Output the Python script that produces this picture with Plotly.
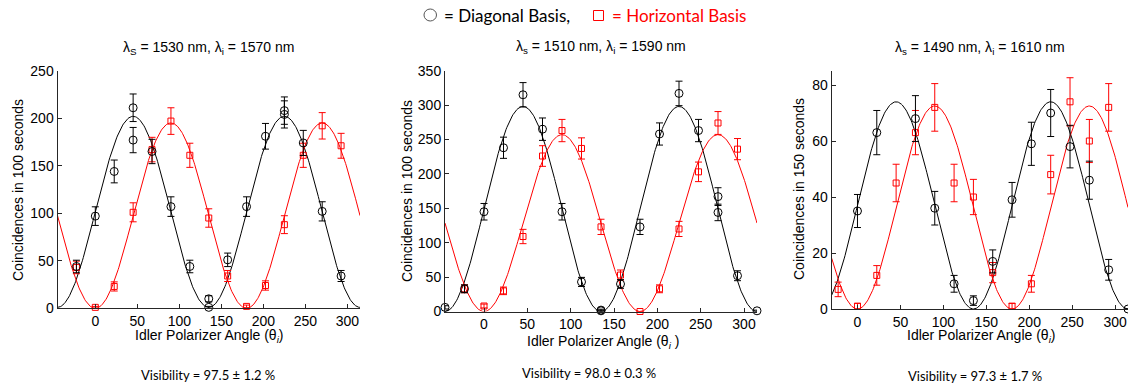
import numpy as np
import plotly.graph_objects as go

W, H = 1128, 385

# ---------------- data ----------------
# Panel 1: lambda_s = 1530, lambda_i = 1570
p1_diag_x = [-22.5, 0, 22.5, 45, 45, 67.5, 90, 112.5, 135, 135, 157.5, 180, 202.5, 225, 225, 247.5, 270, 292.5]
p1_diag_y = [44, 97, 144, 211, 177, 165, 107, 44, 10, 1, 51, 107, 181, 208, 204, 174, 102, 34]
p1_diag_e = [6.6, 9.8, 12, 14.5, 13.3, 12.8, 10.3, 6.6, 3.2, 1, 7.1, 10.3, 13.5, 14.4, 14.3, 13.2, 10.1, 5.8]
p1_hor_x = [-22.5, 0, 22.5, 45, 67.5, 90, 112.5, 135, 157.5, 180, 202.5, 225, 247.5, 270, 292.5]
p1_hor_y = [43, 1, 23, 101, 167, 197, 161, 95, 34, 2, 24, 88, 161, 192, 171]
p1_hor_e = [6.6, 1, 4.8, 10, 12.9, 14, 12.7, 9.7, 5.8, 1.4, 4.9, 9.4, 12.7, 13.9, 13.1]

# Panel 2: lambda_s = 1510, lambda_i = 1590
p2_diag_x = [-45, -22.5, 0, 22.5, 45, 67.5, 90, 112.5, 135, 135, 157.5, 180, 202.5, 225, 247.5, 270, 270, 292.5, 315]
p2_diag_y = [6, 33, 145, 238, 315, 265, 145, 43, 2, 1, 40, 123, 258, 317, 263, 167, 144, 52, 1]
p2_diag_e = [2.4, 5.7, 12, 15.4, 17.7, 16.3, 12, 6.6, 1.4, 1, 6.3, 11.1, 16.1, 17.8, 16.2, 12.9, 12, 7.2, 1]
p2_hor_x = [-22.5, 0, 22.5, 45, 67.5, 90, 112.5, 135, 157.5, 180, 202.5, 225, 247.5, 270, 292.5]
p2_hor_y = [33, 8, 30, 109, 226, 263, 237, 123, 53, 0, 33, 120, 203, 274, 236]
p2_hor_e = [5.7, 2.8, 5.5, 10.4, 15, 16.2, 15.4, 11.1, 7.3, 0, 5.7, 11, 14.2, 16.6, 15.4]

# Panel 3: lambda_s = 1490, lambda_i = 1610
p3_diag_x = [0, 22.5, 67.5, 90, 112.5, 135, 157.5, 180, 202.5, 225, 247.5, 270, 292.5, 315]
p3_diag_y = [35, 63, 68, 36, 9, 3, 17, 39, 59, 70, 58, 46, 14, 0]
p3_diag_e = [5.9, 7.9, 8.2, 6, 3, 1.7, 4.1, 6.2, 7.7, 8.4, 7.6, 6.8, 3.7, 0]
p3_hor_x = [-22.5, 0, 22.5, 45, 67.5, 90, 112.5, 135, 157.5, 180, 202.5, 225, 247.5, 270, 292.5]
p3_hor_y = [7, 1, 12, 45, 63, 72, 45, 40, 13, 1, 9, 48, 74, 60, 72]
p3_hor_e = [2.6, 1, 3.5, 6.7, 7.9, 8.5, 6.7, 6.3, 3.6, 1, 3, 6.9, 8.6, 7.7, 8.5]

# fit parameters (max, min) of cos^2 fits
fit_diag = [(202, 1), (298, 0), (74, 0)]
fit_hor = [(195, 0), (257, 0), (72.5, 0)]

titles = ["λ<sub>S</sub> = 1530 nm, λ<sub>i</sub> = 1570 nm",
          "λ<sub>s</sub> = 1510 nm, λ<sub>i</sub> = 1590 nm",
          "λ<sub>s</sub> = 1490 nm, λ<sub>i</sub> = 1610 nm"]
ytitles = ["Coincidences in 100 seconds", "Coincidences in 100 seconds", "Coincidences in 150 seconds"]
visibilities = ["Visibility = 97.5 ± 1.2 %", "Visibility = 98.0 ± 0.3 %", "Visibility = 97.3 ± 1.7 %"]
xranges = [(-45, 315), (-45, 315), (-30, 315)]
yranges = [(0, 250), (0, 350), (0, 85)]
ydticks = [50, 50, 20]
xticks = [0, 50, 100, 150, 200, 250, 300]

# ---------------- layout geometry (pixels) ----------------
px_x = [(57.5, 360), (445, 757), (831.7, 1128)]
px_y = [(70.7, 308.3), (70.7, 311.5), (71, 309)]

def fx(x):
    return x / W

def fy(y):
    return 1 - y / H

fig = go.Figure()
BLACK = "#000000"
RED = "#ff0000"

panels = [
    (p1_diag_x, p1_diag_y, p1_diag_e, p1_hor_x, p1_hor_y, p1_hor_e),
    (p2_diag_x, p2_diag_y, p2_diag_e, p2_hor_x, p2_hor_y, p2_hor_e),
    (p3_diag_x, p3_diag_y, p3_diag_e, p3_hor_x, p3_hor_y, p3_hor_e),
]

for i, (dx, dy, de, hx, hy, he) in enumerate(panels):
    xa = "x" if i == 0 else f"x{i+1}"
    ya = "y" if i == 0 else f"y{i+1}"
    th = np.linspace(xranges[i][0], xranges[i][1], 400)
    dmax, dmin = fit_diag[i]
    hmax, hmin = fit_hor[i]
    fd = dmin + (dmax - dmin) * np.cos(np.radians(th - 45)) ** 2
    fh = hmin + (hmax - hmin) * np.sin(np.radians(th)) ** 2
    fig.add_trace(go.Scatter(x=th, y=fd, mode="lines", line=dict(color=BLACK, width=1),
                             xaxis=xa, yaxis=ya, showlegend=False, hoverinfo="skip"))
    fig.add_trace(go.Scatter(x=th, y=fh, mode="lines", line=dict(color=RED, width=1),
                             xaxis=xa, yaxis=ya, showlegend=False, hoverinfo="skip"))
    fig.add_trace(go.Scatter(x=hx, y=hy, mode="markers",
                             marker=dict(symbol="square-open", size=6, color=RED, line=dict(width=1, color=RED)),
                             error_y=dict(type="data", array=he, color=RED, thickness=1, width=3.5),
                             xaxis=xa, yaxis=ya, showlegend=False, cliponaxis=False))
    fig.add_trace(go.Scatter(x=dx, y=dy, mode="markers",
                             marker=dict(symbol="circle-open", size=8, color=BLACK, line=dict(width=1, color=BLACK)),
                             error_y=dict(type="data", array=de, color=BLACK, thickness=1, width=3.5),
                             xaxis=xa, yaxis=ya, showlegend=False, cliponaxis=False))

axis_common = dict(showline=True, linecolor="#262626", linewidth=1, ticks="inside", ticklen=4,
                   tickcolor="#262626", showgrid=False, zeroline=False, automargin=False,
                   tickfont=dict(family="Liberation Sans, Arial", size=14, color="#000"))

layout = dict(width=W, height=H, margin=dict(l=0, r=0, t=0, b=0, autoexpand=False),
              paper_bgcolor="white", plot_bgcolor="white", showlegend=False)
for i in range(3):
    xk = "xaxis" if i == 0 else f"xaxis{i+1}"
    yk = "yaxis" if i == 0 else f"yaxis{i+1}"
    xa = "x" if i == 0 else f"x{i+1}"
    ya = "y" if i == 0 else f"y{i+1}"
    layout[xk] = dict(axis_common, domain=[fx(px_x[i][0]), fx(px_x[i][1])], range=list(xranges[i]),
                      tickvals=xticks, anchor=ya)
    layout[yk] = dict(axis_common, domain=[fy(px_y[i][1]), fy(px_y[i][0])], range=list(yranges[i]),
                      dtick=ydticks[i], tick0=0, anchor=xa)
fig.update_layout(**layout)

ann = []
title_pos = [(208.5, 48), (601, 47.5), (980, 48)]
xt_pos = [(209, 336), (603, 342), (981, 336)]
yt_pos = [(18, 190), (407, 191), (799, 189)]
vis_pos = [(208, 375), (589, 373), (975, 376)]
ax_font = dict(family="Liberation Sans, Arial", size=14, color="#000")
for i in range(3):
    ann.append(dict(x=fx(title_pos[i][0]), y=fy(title_pos[i][1]), xref="paper", yref="paper",
                    text=titles[i], showarrow=False, xanchor="center", yanchor="middle",
                    font=dict(family="Liberation Sans, Arial", size=14, color="#000")))
    sp = " " if i == 1 else ""
    ann.append(dict(x=fx(xt_pos[i][0]), y=fy(xt_pos[i][1]), xref="paper", yref="paper",
                    text=f"Idler Polarizer Angle (θ<sub><i>i</i></sub>{sp})", showarrow=False,
                    xanchor="center", yanchor="middle", font=ax_font))
    ann.append(dict(x=fx(yt_pos[i][0]), y=fy(yt_pos[i][1]), xref="paper", yref="paper",
                    text=ytitles[i], showarrow=False, textangle=-90,
                    xanchor="center", yanchor="middle", font=ax_font))
    ann.append(dict(x=fx(vis_pos[i][0]), y=fy(vis_pos[i][1]), xref="paper", yref="paper",
                    text=visibilities[i], showarrow=False, xanchor="center", yanchor="middle",
                    font=dict(family="Lato, Noto Sans", size=13, color="#000")))

# header legend
ann.append(dict(x=fx(442), y=fy(15), xref="paper", yref="paper", text="= Diagonal Basis,",
                showarrow=False, xanchor="left", yanchor="middle",
                font=dict(family="Lato, Noto Sans", size=17, color="#000")))
ann.append(dict(x=fx(610), y=fy(15), xref="paper", yref="paper", text="= Horizontal Basis",
                showarrow=False, xanchor="left", yanchor="middle",
                font=dict(family="Lato, Noto Sans", size=17, color=RED)))
fig.update_layout(annotations=ann)

shapes = [
    dict(type="circle", xref="paper", yref="paper", x0=fx(424), x1=fx(436.5), y0=fy(21), y1=fy(9),
         line=dict(color="#555555", width=1)),
    dict(type="rect", xref="paper", yref="paper", x0=fx(593.5), x1=fx(603.5), y0=fy(20.5), y1=fy(10.5),
         line=dict(color=RED, width=1)),
]
fig.update_layout(shapes=shapes)

fig.write_html("out.html", config={"displayModeBar": False},
               post_script="document.body.style.margin='0';document.body.style.overflow='hidden';")
